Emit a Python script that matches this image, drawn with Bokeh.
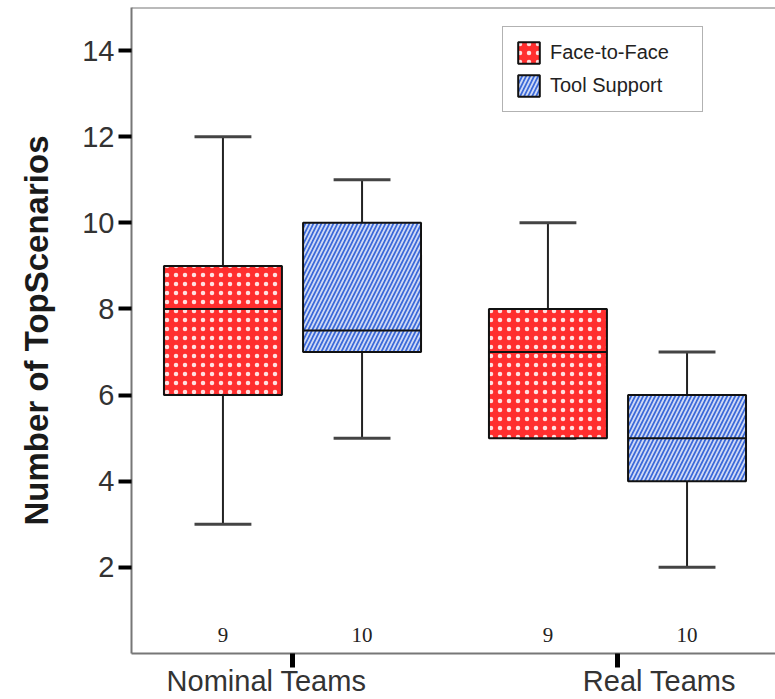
from bokeh.plotting import figure
from bokeh.models import (Range1d, FixedTicker, Legend, LegendItem, ColumnDataSource, Span, LinearAxis)
from bokeh.core.properties import value
from bokeh.embed import file_html
from bokeh.resources import INLINE

# ---- data ----
groups = ["Nominal Teams", "Real Teams"]
conditions = ["Face-to-Face", "Tool Support"]
box_group = [0, 0, 1, 1]
box_cond = [0, 1, 0, 1]
whisker_low = [3, 5, 5, 2]
q1 = [6, 7, 5, 4]
median = [8, 7.5, 7, 5]
q3 = [9, 10, 8, 6]
whisker_high = [12, 11, 10, 7]
counts = [9, 10, 9, 10]
y_ticks = [2, 4, 6, 8, 10, 12, 14]
y_title = "Number of TopScenarios"

# ---- styles ----
group_pos = [1, 2]
label_shift = [-0.08, 0.129]
offsets = [-0.214, 0.214]
box_w = 0.363
cap_w = 0.175
fills = ["#ff2e2e", "#3a68d8"]
hatches = ["dot", "right_diagonal_line"]
hatch_scales = [9, 8]
hatch_weights = [1.7, 1.8]
hatch_alphas = [0.85, 0.75]

p = figure(width=775, height=699, output_backend="svg", toolbar_location=None,
           x_range=Range1d(0.5046, 2.4862), y_range=Range1d(0, 15),
           min_border_left=131, min_border_right=0, min_border_top=7,
           min_border_bottom=46)
p.outline_line_color = None
p.xgrid.visible = False
p.ygrid.visible = False
p.background_fill_color = "white"
p.border_fill_color = "white"

p.add_layout(Span(location=15, dimension="width", line_color="#777777", line_width=2))

renderers = []
for c in range(2):
    idx = [i for i in range(4) if box_cond[i] == c]
    xs = [group_pos[box_group[i]] + offsets[c] for i in idx]
    src = ColumnDataSource(dict(
        x=xs,
        lo=[whisker_low[i] for i in idx],
        q1=[q1[i] for i in idx],
        med=[median[i] for i in idx],
        q3=[q3[i] for i in idx],
        hi=[whisker_high[i] for i in idx],
        xl=[x - box_w / 2 for x in xs],
        xr=[x + box_w / 2 for x in xs],
        cl=[x - cap_w / 2 for x in xs],
        cr=[x + cap_w / 2 for x in xs],
        n=[str(counts[i]) for i in idx],
    ))
    # whiskers
    p.segment(x0="x", y0="q3", x1="x", y1="hi", source=src, line_color="#222222", line_width=2)
    p.segment(x0="x", y0="lo", x1="x", y1="q1", source=src, line_color="#222222", line_width=2)
    p.segment(x0="cl", y0="hi", x1="cr", y1="hi", source=src, line_color="#444444", line_width=3)
    p.segment(x0="cl", y0="lo", x1="cr", y1="lo", source=src, line_color="#444444", line_width=3)
    r = p.vbar(x="x", width=box_w, bottom="q1", top="q3", source=src,
               fill_color=fills[c], line_color="#111111", line_width=2,
               hatch_pattern=hatches[c], hatch_color="white", hatch_alpha=hatch_alphas[c],
               hatch_scale=hatch_scales[c], hatch_weight=hatch_weights[c])
    renderers.append(r)
    p.segment(x0="xl", y0="med", x1="xr", y1="med", source=src, line_color="#111111", line_width=2)
    p.text(x="x", y=0.42, text="n", source=src, text_font=value("Liberation Serif"),
           text_font_size="21px", text_align="center", text_baseline="middle",
           text_color="#222222")

# y axis
p.yaxis.ticker = FixedTicker(ticks=y_ticks)
p.yaxis.minor_tick_line_color = None
p.yaxis.major_tick_out = 13
p.yaxis.major_tick_in = 0
p.yaxis.major_tick_line_width = 4
p.yaxis.major_tick_line_color = "black"
p.yaxis.axis_line_color = "#777777"
p.yaxis.axis_line_width = 2
p.yaxis.major_label_text_font = "Liberation Sans"
p.yaxis.major_label_text_font_size = "29px"
p.yaxis.major_label_text_color = "#333333"
p.yaxis.major_label_standoff = 4
p.yaxis.axis_label = y_title
p.yaxis.axis_label_text_font = "Liberation Sans"
p.yaxis.axis_label_text_font_size = "33px"
p.yaxis.axis_label_text_font_style = "bold"
p.yaxis.axis_label_text_color = "#1a1a1a"
p.yaxis.axis_label_standoff = 24

# x axis: tick marks only
p.xaxis.ticker = FixedTicker(ticks=group_pos)
p.xaxis.major_label_overrides = {g: "" for g in group_pos}
p.xaxis.major_label_text_font_size = "0px"
p.xaxis.major_label_standoff = 0
p.xaxis.minor_tick_line_color = None
p.xaxis.major_tick_out = 14
p.xaxis.major_tick_in = 0
p.xaxis.major_tick_line_width = 5
p.xaxis.major_tick_line_color = "black"
p.xaxis.axis_line_color = "#777777"
p.xaxis.axis_line_width = 2

# second x axis: group names
label_pos = [group_pos[i] + label_shift[i] for i in range(2)]
ax2 = LinearAxis(ticker=FixedTicker(ticks=label_pos),
                 major_label_overrides={label_pos[i]: groups[i] for i in range(2)})
ax2.axis_line_color = None
ax2.major_tick_line_color = None
ax2.minor_tick_line_color = None
ax2.major_tick_out = 0
ax2.major_tick_in = 0
ax2.major_label_standoff = -3
ax2.major_label_text_font = "Liberation Sans"
ax2.major_label_text_font_size = "29px"
ax2.major_label_text_color = "#333333"
p.add_layout(ax2, "below")

legend = Legend(items=[LegendItem(label=conditions[i], renderers=[renderers[i]]) for i in range(2)],
                location=(371, 541))
legend.border_line_color = "#666666"
legend.border_line_width = 1.5
legend.background_fill_color = "white"
legend.label_text_font = "Liberation Sans"
legend.label_text_font_size = "20px"
legend.label_text_color = "#222222"
legend.glyph_width = 27
legend.glyph_height = 27
legend.spacing = 6
legend.padding = 12
legend.margin = 0
legend.label_standoff = 8
legend.label_width = 140
p.add_layout(legend, "center")

open("out.html", "w").write(file_html(p, INLINE))
